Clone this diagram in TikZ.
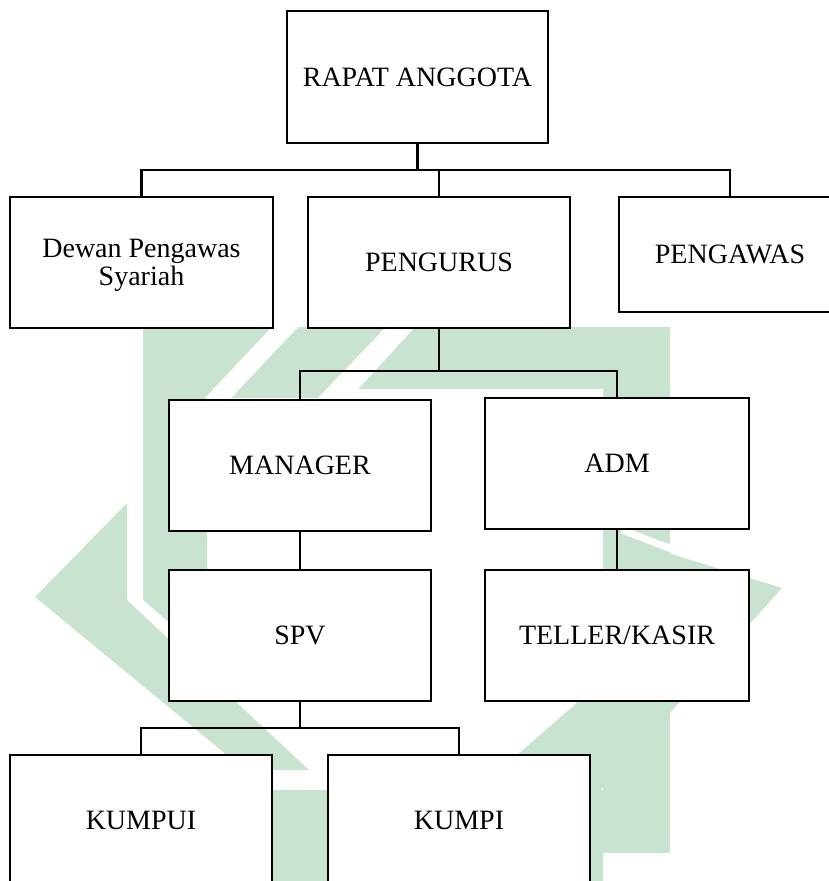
\documentclass[tikz,border=0pt]{standalone}
\usepackage{fontspec}
\setmainfont{Liberation Serif}
\definecolor{wm}{RGB}{201,227,209}
\begin{document}
\begin{tikzpicture}[x=1pt,y=-1pt,
  box/.style={draw, fill=white, line width=2.5pt, inner sep=0pt, align=center,
    text depth=0pt, font=\fontsize{28}{28.5}\selectfont},
  link/.style={line width=2.5pt}]
\clip (0,0) rectangle (829,881);
% watermark (approximation)
\fill[wm] (143,327) rectangle (670,398);
\fill[wm] (143,327) -- (207,327) -- (207,655) -- (143,600) -- cycle;
\fill[white] (205,398) -- (231,398) -- (314,310) -- (288,310) -- cycle;
\fill[white] (318,398) -- (350,398) -- (415,327) -- (386,327) -- cycle;
\fill[white] (350,389) rectangle (603,399);
\fill[wm] (127,503) -- (35,597) -- (245,770) -- (309,770) -- (127,600) -- cycle;
\fill[wm] (603,327) rectangle (670,853);
\fill[wm] (255,790) rectangle (603,881);
\fill[wm] (603,533) -- (782,588) -- (592,800) -- (517,755) -- (603,680) -- cycle;
\draw[white, line width=7pt] (622,530) -- (690,556);
% boxes
\node[box, minimum width=261pt, minimum height=132pt] (rapat) at (417.5,77) {RAPAT ANGGOTA};
\node[box, minimum width=263pt, minimum height=131pt] (dewan) at (141.5,262.5) {Dewan Pengawas\\Syariah};
\node[box, minimum width=262pt, minimum height=131pt] (pengurus) at (439,262.5) {PENGURUS};
\node[box, minimum width=222pt, minimum height=115pt] (pengawas) at (730,254.5) {PENGAWAS};
\node[box, minimum width=262pt, minimum height=131pt] (manager) at (300,465.5) {MANAGER};
\node[box, minimum width=264pt, minimum height=131pt] (adm) at (617,463.5) {ADM};
\node[box, minimum width=262pt, minimum height=131pt] (spv) at (300,635.5) {SPV};
\node[box, minimum width=264pt, minimum height=131pt] (teller) at (617,635.5) {TELLER/KASIR};
\node[box, minimum width=262pt, minimum height=131pt] (kumpui) at (141,820.5) {KUMPUI};
\node[box, minimum width=262pt, minimum height=131pt] (kumpi) at (459,820.5) {KUMPI};
% buses
\coordinate (bus1) at (0,170);
\coordinate (bus2) at (0,371);
\coordinate (bus3) at (0,728);
\draw[link] (rapat.south) -- (rapat.south |- bus1);
\draw[link] (dewan.north) -- (dewan.north |- bus1) -- (pengawas.north |- bus1) -- (pengawas.north);
\draw[link] (pengurus.north) -- (pengurus.north |- bus1);
\draw[link] (pengurus.south) -- (pengurus.south |- bus2);
\draw[link] (manager.north) -- (manager.north |- bus2) -- (adm.north |- bus2) -- (adm.north);
\draw[link] (manager) -- (spv);
\draw[link] (adm) -- (teller);
\draw[link] (spv.south) -- (spv.south |- bus3);
\draw[link] (kumpui.north) -- (kumpui.north |- bus3) -- (kumpi.north |- bus3) -- (kumpi.north);
\end{tikzpicture}
\end{document}
